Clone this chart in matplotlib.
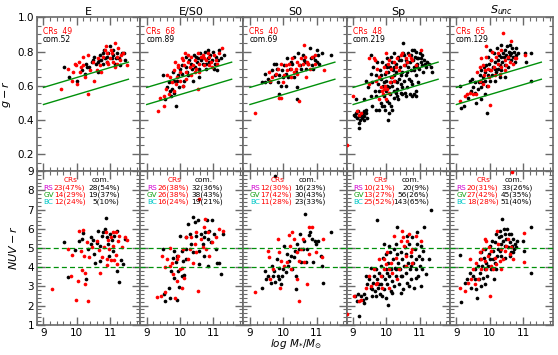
import numpy as np
import matplotlib
matplotlib.use("Agg")
import matplotlib.pyplot as plt
from matplotlib.ticker import MultipleLocator

# Panel names and sample counts
morph = ['E', 'E/S0', 'S0', 'Sp', '$S_{unc}$']
n_cr = [49, 68, 40, 48, 65]
n_com = [52, 89, 69, 219, 129]

# NUV-r class counts (CRs / comparison) and percentages
rs_cr = [23, 26, 12, 10, 20]; rs_cr_p = [47, 38, 30, 21, 31]
gv_cr = [14, 26, 17, 13, 27]; gv_cr_p = [29, 38, 42, 27, 42]
bc_cr = [12, 16, 11, 25, 18]; bc_cr_p = [24, 24, 28, 52, 28]
rs_com = [28, 32, 16, 20, 33]; rs_com_p = [54, 36, 23, 9, 26]
gv_com = [19, 38, 30, 56, 45]; gv_com_p = [37, 43, 43, 26, 35]
bc_com = [5, 19, 23, 143, 51]; bc_com_p = [10, 21, 33, 65, 40]

# ---- g-r vs mass, CRs (red) ----
gr_cr_E = [(9.53,0.58),(9.75,0.70),(9.85,0.63),(9.88,0.68),(9.95,0.73),(10.02,0.61),(10.10,0.68),(10.06,0.74),
           (10.18,0.77),(10.25,0.65),(10.35,0.78),(10.35,0.55),(10.40,0.69),(10.48,0.74),(10.53,0.63),(10.60,0.69),
           (10.70,0.72),(10.80,0.77),(10.84,0.81),(10.90,0.74),(11.00,0.76),(11.05,0.79),(11.15,0.85),(11.20,0.77),
           (11.25,0.82),(11.30,0.75),(11.40,0.79),(11.50,0.72),(10.95,0.73),(11.10,0.74),(10.92,0.79),(9.98,0.72),
           (10.20,0.72),(10.73,0.68),(11.15,0.71),(11.32,0.78),(11.03,0.81),(10.88,0.83),(10.65,0.76),(11.22,0.73),
           (10.14,0.71)]
gr_cr_ES0 = [(9.34,0.45),(9.51,0.48),(9.40,0.53),(9.57,0.58),(9.66,0.55),(9.76,0.62),(9.81,0.69),(9.85,0.74),
             (9.90,0.65),(9.95,0.71),(10.00,0.68),(10.05,0.76),(10.08,0.60),(10.12,0.72),(10.15,0.79),(10.19,0.68),
             (10.24,0.74),(10.29,0.71),(10.34,0.77),(10.39,0.72),(10.44,0.75),(10.49,0.70),(10.54,0.58),(10.58,0.73),
             (10.63,0.77),(10.68,0.78),(10.73,0.72),(10.78,0.75),(10.83,0.79),(10.87,0.77),(10.92,0.74),(10.97,0.71),
             (11.02,0.78),(11.07,0.75),(11.12,0.73),(11.18,0.79),(11.26,0.82),(9.71,0.65),(9.87,0.61),(10.00,0.63),
             (10.19,0.64),(10.34,0.66),(10.44,0.68),(10.58,0.68),(10.73,0.76),(10.10,0.75),(9.95,0.72),(9.81,0.57),
             (9.51,0.54),(9.61,0.66),(10.53,0.79),(10.87,0.72),(10.24,0.78)]
gr_cr_S0 = [(9.15,0.44),(9.57,0.68),(9.66,0.65),(9.83,0.70),(9.93,0.73),(9.98,0.62),(9.93,0.53),(10.02,0.66),
            (10.12,0.69),(10.17,0.73),(10.22,0.65),(10.27,0.76),(10.32,0.68),(10.37,0.70),(10.46,0.72),(10.48,0.51),
            (10.54,0.76),(10.58,0.73),(10.61,0.84),(10.69,0.65),(10.71,0.74),(10.80,0.70),(10.85,0.77),(10.95,0.78),
            (11.21,0.69),(9.86,0.53),(10.41,0.67),(10.64,0.77),(9.78,0.67),(10.07,0.72),(10.75,0.73),(10.22,0.70),
            (9.61,0.63),(10.41,0.74),(10.95,0.73)]
gr_cr_Sp = [(8.82,0.25),(9.00,0.54),(9.16,0.43),(9.23,0.44),(9.10,0.45),(9.48,0.76),(9.63,0.76),(9.66,0.75),
            (9.68,0.63),(9.73,0.70),(9.78,0.65),(9.83,0.59),(9.88,0.57),(9.90,0.55),(9.93,0.71),(9.96,0.60),
            (9.98,0.68),(10.00,0.52),(10.03,0.58),(10.06,0.73),(10.08,0.56),(10.10,0.62),(10.13,0.70),(10.18,0.65),
            (10.23,0.74),(10.28,0.71),(10.33,0.76),(10.38,0.69),(10.43,0.78),(10.48,0.79),(10.53,0.72),(10.58,0.76),
            (10.63,0.74),(10.68,0.78),(10.73,0.76),(10.78,0.75),(10.88,0.72),(11.03,0.81),(9.93,0.58),(9.78,0.52),
            (9.48,0.61),(10.08,0.75),(9.98,0.79),(10.23,0.63)]
gr_cr_Sunc = [(9.10,0.51),(9.25,0.54),(9.33,0.55),(9.40,0.56),(9.50,0.55),(9.60,0.55),(9.63,0.68),(9.70,0.71),
              (9.75,0.76),(9.80,0.72),(9.83,0.66),(9.85,0.69),(9.90,0.77),(9.90,0.83),(9.95,0.70),(9.97,0.65),
              (10.00,0.49),(10.03,0.75),(10.05,0.69),(10.08,0.80),(10.13,0.71),(10.15,0.66),(10.20,0.77),(10.25,0.73),
              (10.30,0.67),(10.35,0.81),(10.40,0.91),(10.45,0.75),(10.50,0.72),(10.55,0.77),(10.60,0.74),(10.65,0.86),
              (10.70,0.73),(10.75,0.76),(10.80,0.76),(11.05,0.78),(9.80,0.61),(9.95,0.60),(9.70,0.63),(10.35,0.71),
              (10.25,0.79),(10.47,0.69)]

# ---- g-r vs mass, comparison (black) ----
gr_com_E = [(9.63,0.71),(9.76,0.65),(10.00,0.63),(10.15,0.69),(10.28,0.73),(10.32,0.71),(10.45,0.74),(10.50,0.75),
            (10.57,0.73),(10.63,0.74),(10.68,0.75),(10.73,0.75),(10.78,0.79),(10.82,0.81),(10.86,0.76),(10.90,0.77),
            (10.95,0.79),(11.00,0.83),(11.05,0.76),(11.10,0.78),(11.15,0.73),(11.22,0.79),(11.27,0.76),(11.35,0.79),
            (11.42,0.79),(11.46,0.75),(10.80,0.73),(10.70,0.78),(10.63,0.68),(10.25,0.67),(10.38,0.71),(10.53,0.77),
            (11.08,0.81),(11.18,0.76),(10.92,0.74),(11.30,0.72)]
gr_com_ES0 = [(9.50,0.66),(9.56,0.52),(9.61,0.59),(9.69,0.57),(9.76,0.58),(9.73,0.54),(9.88,0.48),(9.83,0.56),
              (9.78,0.68),(9.90,0.63),(9.94,0.66),(10.00,0.70),(10.07,0.67),(10.13,0.63),(10.17,0.71),(10.22,0.68),
              (10.27,0.75),(10.32,0.73),(10.37,0.70),(10.42,0.78),(10.47,0.77),(10.50,0.74),(10.55,0.76),(10.60,0.79),
              (10.64,0.75),(10.70,0.77),(10.74,0.80),(10.78,0.73),(10.83,0.76),(10.85,0.81),(10.90,0.78),(10.95,0.75),
              (10.99,0.80),(11.04,0.73),(11.09,0.77),(11.14,0.75),(11.18,0.81),(11.24,0.76),(11.31,0.78),(11.02,0.70),
              (10.10,0.60),(9.98,0.59),(10.24,0.66),(10.44,0.71),(10.58,0.70),(10.68,0.73),(10.87,0.74),(10.05,0.72),
              (9.81,0.63),(9.66,0.62),(10.39,0.63),(10.19,0.77),(10.78,0.70),(11.12,0.69),(10.58,0.65)]
gr_com_S0 = [(9.36,0.62),(9.44,0.62),(9.44,0.67),(9.54,0.64),(9.59,0.62),(9.66,0.69),(9.71,0.73),(9.76,0.66),
             (9.78,0.73),(9.83,0.62),(9.88,0.55),(9.88,0.66),(9.93,0.60),(9.96,0.69),(10.02,0.72),(10.07,0.67),
             (10.12,0.76),(10.15,0.65),(10.20,0.70),(10.27,0.73),(10.32,0.77),(10.37,0.68),(10.40,0.59),(10.40,0.52),
             (10.43,0.79),(10.49,0.72),(10.54,0.70),(10.58,0.78),(10.64,0.74),(10.68,0.70),(10.74,0.73),(10.80,0.82),
             (10.83,0.76),(10.87,0.72),(10.90,0.77),(10.95,0.75),(11.00,0.81),(11.03,0.78),(11.07,0.73),(11.17,0.79),
             (11.42,0.78),(9.81,0.70),(9.98,0.65),(10.22,0.74),(10.61,0.75),(10.90,0.70),(11.00,0.74),(10.32,0.65),
             (10.07,0.60)]
gr_com_Sp = [(9.03,0.43),(9.08,0.44),(9.13,0.45),(9.18,0.42),(9.23,0.43),(9.28,0.44),(9.33,0.45),(9.38,0.44),
             (9.16,0.38),(9.16,0.35),(9.20,0.40),(9.26,0.41),(9.33,0.42),(9.40,0.46),(9.10,0.41),(9.06,0.42),
             (9.31,0.40),(9.43,0.41),(9.08,0.52),(9.33,0.52),(9.38,0.63),(9.46,0.59),(9.53,0.67),(9.53,0.54),
             (9.58,0.62),(9.60,0.71),(9.66,0.57),(9.68,0.66),(9.70,0.54),(9.73,0.74),(9.76,0.61),(9.78,0.57),
             (9.80,0.69),(9.83,0.50),(9.85,0.64),(9.88,0.74),(9.88,0.48),(9.90,0.60),(9.93,0.54),(9.95,0.67),
             (9.96,0.46),(9.98,0.72),(9.98,0.57),(10.00,0.63),(10.03,0.76),(10.03,0.51),(10.05,0.68),(10.06,0.40),
             (10.08,0.59),(10.10,0.71),(10.11,0.55),(10.13,0.65),(10.14,0.48),(10.16,0.74),(10.18,0.60),(10.20,0.69),
             (10.22,0.53),(10.23,0.79),(10.25,0.63),(10.28,0.56),(10.28,0.73),(10.30,0.68),(10.33,0.58),(10.34,0.77),
             (10.36,0.52),(10.38,0.64),(10.40,0.71),(10.43,0.61),(10.44,0.75),(10.46,0.55),(10.48,0.68),(10.50,0.79),
             (10.51,0.85),(10.53,0.63),(10.55,0.72),(10.56,0.56),(10.58,0.66),(10.60,0.75),(10.62,0.59),(10.64,0.71),
             (10.66,0.79),(10.68,0.64),(10.70,0.74),(10.72,0.55),(10.74,0.69),(10.76,0.81),(10.78,0.61),(10.80,0.75),
             (10.82,0.55),(10.84,0.71),(10.86,0.77),(10.88,0.66),(10.90,0.80),(10.92,0.73),(10.94,0.62),(10.96,0.76),
             (10.98,0.70),(11.00,0.79),(11.03,0.74),(11.06,0.72),(11.08,0.78),(11.10,0.68),(11.13,0.75),(11.16,0.73),
             (11.18,0.71),(11.23,0.74),(11.28,0.73),(11.33,0.71),(11.36,0.68),(10.90,0.57),(10.78,0.54),(10.88,0.54),
             (9.68,0.46),(9.58,0.48),(9.78,0.46),(10.08,0.44),(9.93,0.48),(10.18,0.46),(10.08,0.50),(10.33,0.54),
             (10.48,0.59),(10.58,0.54),(9.53,0.78),(10.03,0.71),(10.13,0.77),(10.23,0.71),(10.38,0.75),(10.53,0.78),
             (10.63,0.74),(10.73,0.78),(10.83,0.81),(10.93,0.76),(11.03,0.76),(10.43,0.66),(10.23,0.66),(10.33,0.62),
             (10.13,0.62),(9.93,0.62),(9.83,0.66),(10.03,0.60),(10.23,0.57),(10.43,0.56),(10.63,0.68),(10.73,0.63),
             (10.83,0.69),(10.93,0.71)]
gr_com_Sunc = [(9.10,0.60),(9.15,0.47),(9.23,0.48),(9.35,0.53),(9.40,0.63),(9.45,0.57),(9.50,0.59),(9.55,0.62),
               (9.57,0.56),(9.60,0.50),(9.65,0.58),(9.67,0.62),(9.70,0.66),(9.73,0.59),(9.75,0.69),(9.77,0.62),
               (9.80,0.65),(9.83,0.71),(9.85,0.63),(9.87,0.68),(9.90,0.72),(9.92,0.60),(9.93,0.44),(9.95,0.66),
               (9.97,0.73),(10.00,0.69),(10.02,0.63),(10.05,0.75),(10.07,0.66),(10.10,0.71),(10.12,0.79),(10.15,0.70),
               (10.17,0.74),(10.20,0.68),(10.23,0.82),(10.25,0.75),(10.27,0.78),(10.30,0.72),(10.33,0.77),(10.35,0.84),
               (10.38,0.74),(10.40,0.79),(10.43,0.77),(10.45,0.81),(10.47,0.72),(10.50,0.78),(10.53,0.83),(10.55,0.76),
               (10.58,0.80),(10.60,0.78),(10.63,0.75),(10.65,0.79),(10.68,0.82),(10.70,0.77),(10.73,0.80),(10.75,0.74),
               (10.80,0.78),(10.85,0.79),(11.05,0.79),(11.10,0.74),(11.25,0.79),(11.25,0.63),(10.15,0.63),(10.30,0.65),
               (10.35,0.69),(10.45,0.65),(10.55,0.71),(9.95,0.77),(9.85,0.55),(9.47,0.64),(9.75,0.52),(10.25,0.70),
               (10.60,0.84),(10.00,0.81),(10.80,0.82)]

# ---- NUV-r vs mass, CRs (red) ----
nuv_cr_E = [(9.25,2.89),(9.75,4.94),(9.85,4.64),(9.83,3.54),(9.98,2.31),(10.03,3.28),(10.07,5.90),(10.13,4.85),
            (10.16,3.84),(10.22,4.56),(10.25,3.15),(10.32,5.29),(10.35,2.23),(10.38,4.54),(10.45,5.05),(10.60,5.38),
            (10.67,4.89),(10.75,4.54),(10.83,5.06),(10.88,5.82),(10.90,4.10),(10.95,5.44),(10.98,4.94),(11.03,4.38),
            (11.08,5.85),(11.13,4.38),(11.17,5.82),(11.22,4.19),(11.25,5.38),(11.28,5.64),(11.35,5.03),(11.45,5.55),
            (11.50,5.41),(10.70,3.71),(10.92,4.45),(10.20,5.94),(11.10,5.12),(11.18,4.63),(10.25,3.71),(11.03,5.55)]
nuv_cr_ES0 = [(9.32,2.43),(9.44,2.49),(9.56,2.72),(9.47,4.56),(9.54,4.03),(9.61,4.42),(9.71,4.98),(9.76,4.24),
              (9.79,3.63),(9.85,2.40),(9.92,3.26),(9.95,4.56),(10.00,3.89),(10.05,2.93),(10.08,4.94),(10.12,3.45),
              (10.19,5.55),(10.24,4.42),(10.29,4.94),(10.34,5.55),(10.39,4.24),(10.44,5.20),(10.49,4.77),(10.54,2.75),
              (10.58,7.57),(10.63,5.47),(10.68,5.03),(10.75,6.52),(10.78,4.94),(10.83,5.82),(10.87,4.59),(10.97,5.29),
              (11.07,5.55),(11.17,5.99),(11.29,5.90),(10.49,5.82),(9.90,4.42),(10.73,6.08),(10.05,3.98),(9.71,4.07)]
nuv_cr_S0 = [(9.15,2.72),(9.54,4.86),(9.57,4.51),(9.59,3.37),(9.68,3.89),(9.83,5.47),(9.86,4.77),(9.91,2.93),
             (9.93,4.33),(10.12,4.25),(10.20,5.12),(10.22,3.89),(10.27,5.82),(10.32,5.47),(10.17,5.65),(10.41,3.37),
             (10.46,4.33),(10.48,2.23),(10.54,4.95),(10.58,5.47),(10.61,4.25),(10.71,3.11),(10.76,6.09),(10.78,4.68),
             (10.85,6.09),(10.97,4.77),(11.20,5.47),(11.17,4.51),(10.02,4.07),(10.41,4.77)]
nuv_cr_Sp = [(8.81,1.58),(9.03,2.49),(9.18,2.23),(9.23,2.31),(9.38,2.93),(9.53,3.01),(9.63,3.89),(9.73,3.19),
             (9.78,4.42),(9.83,3.54),(9.88,2.93),(9.93,3.89),(9.98,4.15),(10.03,4.77),(10.08,2.93),(10.13,4.24),
             (10.18,3.71),(10.23,5.64),(10.28,4.50),(10.33,3.36),(10.38,3.89),(10.46,5.90),(10.50,5.55),(10.53,5.12),
             (10.58,4.59),(10.60,4.06),(10.63,5.38),(10.68,5.73),(10.73,4.77),(10.78,4.24),(10.88,5.64),(11.03,5.38),
             (10.78,4.94),(10.43,5.38),(10.08,3.89),(9.68,3.10),(9.93,4.42),(9.48,3.54)]
nuv_cr_Sunc = [(10.68,8.93),(9.10,2.93),(9.25,2.75),(9.35,3.19),(9.45,3.36),(9.50,3.89),(9.55,3.10),(9.60,4.24),
               (9.65,3.36),(9.70,4.77),(9.75,3.89),(9.80,4.94),(9.85,5.47),(9.87,4.33),(9.90,3.89),(9.95,4.59),
               (9.97,5.03),(10.00,2.49),(10.03,4.06),(10.05,4.85),(10.10,3.89),(10.15,4.50),(10.20,4.15),(10.23,5.90),
               (10.25,5.20),(10.30,4.33),(10.35,3.89),(10.40,4.42),(10.45,4.85),(10.50,5.12),(10.55,5.47),(10.60,4.68),
               (10.65,5.03),(10.70,4.42),(11.03,5.78),(11.03,4.29),(9.40,4.42),(9.75,4.42),(9.90,5.38),(10.35,4.94)]

# ---- NUV-r vs mass, comparison (black) ----
nuv_com_E = [(9.63,5.29),(9.75,3.50),(9.96,4.89),(10.08,5.38),(10.20,5.78),(10.28,3.36),(10.33,4.94),(10.42,5.55),
             (10.48,5.41),(10.52,4.68),(10.55,4.24),(10.60,5.26),(10.63,5.90),(10.70,5.12),(10.75,5.64),(10.80,5.82),
             (10.88,6.55),(10.85,5.99),(10.90,5.55),(10.95,5.20),(10.98,4.59),(11.00,5.73),(11.05,5.43),(11.08,4.85),
             (11.12,5.64),(11.20,5.90),(11.22,3.80),(11.27,3.22),(11.32,4.38),(11.40,4.19),(11.45,5.47),(10.70,4.33),
             (10.16,5.47),(10.42,5.20)]
nuv_com_ES0 = [(9.49,4.94),(9.53,2.58),(9.56,2.23),(9.66,2.93),(9.71,2.40),(9.74,3.80),(9.78,4.50),(9.81,4.85),
               (9.83,3.45),(9.87,4.27),(9.90,2.31),(9.92,4.59),(9.95,3.80),(9.98,2.98),(10.01,5.64),(10.05,3.54),
               (10.08,4.33),(10.13,3.57),(10.17,4.94),(10.19,5.55),(10.24,6.25),(10.29,5.73),(10.34,5.20),(10.39,6.60),
               (10.44,6.34),(10.49,5.64),(10.53,6.43),(10.58,4.85),(10.63,5.73),(10.68,5.20),(10.73,4.59),(10.76,5.82),
               (10.80,6.43),(10.84,5.47),(10.87,5.90),(10.92,5.29),(10.97,6.43),(11.02,5.73),(11.07,4.94),(11.12,4.24),
               (11.17,4.24),(11.22,3.63),(11.28,5.73),(10.83,4.07),(10.58,4.15),(10.19,4.42),(10.05,4.85),(10.39,4.77),
               (10.73,5.55)]
nuv_com_S0 = [(9.36,2.93),(9.44,3.81),(9.47,3.37),(9.54,3.54),(9.63,3.19),(9.66,4.07),(9.70,3.54),(9.76,3.23),
              (9.76,8.72),(9.80,4.42),(9.83,3.54),(9.86,3.98),(9.88,3.37),(9.93,3.11),(9.96,3.54),(10.02,5.12),
              (10.07,3.76),(10.12,4.68),(10.15,4.07),(10.17,4.33),(10.22,4.60),(10.27,3.89),(10.32,4.51),(10.35,4.86),
              (10.37,2.84),(10.39,3.54),(10.42,5.21),(10.46,4.95),(10.50,5.74),(10.54,4.25),(10.58,4.95),(10.61,5.38),
              (10.66,6.79),(10.68,4.25),(10.71,4.95),(10.76,5.65),(10.80,5.82),(10.85,5.47),(10.90,4.25),(10.95,5.38),
              (10.97,5.21),(11.05,5.38),(11.12,4.60),(11.15,4.07),(11.20,3.19),(11.42,5.82),(9.73,3.81),(9.98,3.89)]
nuv_com_Sp = [(9.16,1.47),(9.10,2.23),(9.06,2.49),(9.13,2.58),(9.23,2.49),(9.28,2.31),(9.33,2.58),(9.38,2.40),
              (9.31,2.14),(9.43,3.10),(9.48,3.36),(9.53,2.93),(9.56,2.49),(9.60,3.19),(9.63,3.54),(9.66,2.75),
              (9.68,3.89),(9.70,2.49),(9.73,3.36),(9.75,2.93),(9.73,6.43),(9.78,3.71),(9.80,2.58),(9.83,4.06),
              (9.85,3.10),(9.88,3.54),(9.90,4.50),(9.93,2.84),(9.95,3.36),(9.98,3.89),(10.00,2.40),(10.03,3.10),
              (10.05,4.24),(10.06,2.05),(10.08,3.54),(10.10,4.77),(10.13,2.75),(10.15,3.89),(10.18,3.28),(10.20,4.42),
              (10.23,3.01),(10.25,3.98),(10.28,5.20),(10.30,3.54),(10.33,6.08),(10.35,4.24),(10.38,3.10),(10.40,3.89),
              (10.43,4.77),(10.45,3.54),(10.48,4.42),(10.50,2.84),(10.53,4.06),(10.55,5.03),(10.58,3.71),(10.60,4.68),
              (10.63,3.19),(10.65,4.24),(10.68,5.20),(10.70,3.89),(10.73,4.59),(10.75,3.36),(10.78,5.55),(10.80,4.24),
              (10.83,2.93),(10.85,4.94),(10.88,3.89),(10.90,4.42),(10.93,5.20),(10.95,3.54),(10.98,4.59),(11.00,4.06),
              (11.03,3.01),(11.08,4.42),(11.10,4.85),(11.13,6.08),(11.18,3.63),(11.28,4.42),(11.35,6.99),(9.93,5.20),
              (10.23,4.94),(9.53,3.98),(9.38,3.54),(10.08,5.12),(9.88,2.49),(10.48,3.54),(10.73,4.06),(10.33,4.68),
              (10.63,5.64),(10.93,5.82),(9.98,4.68),(10.18,2.66),(9.78,3.10),(9.58,2.84),(10.28,3.89),(10.68,3.01),
              (10.43,2.66),(10.03,3.71),(10.88,3.45),(11.08,3.89),(11.03,5.12)]
nuv_com_Sunc = [(9.10,4.63),(9.13,2.17),(9.25,3.19),(9.33,3.36),(9.40,3.71),(9.45,2.93),(9.50,3.54),(9.55,3.89),
                (9.60,2.84),(9.63,2.40),(9.65,4.06),(9.67,3.36),(9.70,4.42),(9.72,3.71),(9.75,4.77),(9.77,4.06),
                (9.80,3.45),(9.83,4.50),(9.85,3.89),(9.87,4.94),(9.90,4.24),(9.92,3.54),(9.95,4.06),(9.97,4.68),
                (10.00,5.12),(10.02,4.42),(10.05,3.89),(10.07,5.38),(10.10,4.85),(10.12,3.36),(10.15,4.24),(10.17,5.29),
                (10.20,5.73),(10.23,4.59),(10.25,4.94),(10.27,5.55),(10.30,5.90),(10.33,5.20),(10.35,5.64),(10.38,6.52),
                (10.40,5.38),(10.42,5.99),(10.45,4.50),(10.47,5.73),(10.50,5.47),(10.53,5.99),(10.55,5.03),(10.57,5.73),
                (10.60,5.29),(10.63,4.77),(10.65,5.73),(10.68,5.12),(10.70,5.47),(10.73,4.94),(10.75,5.20),(10.80,5.03),
                (10.83,5.38),(11.00,5.38),(11.03,4.85),(11.25,6.08),(11.25,3.68),(9.75,3.01),(9.55,3.36),(9.85,3.10),
                (10.35,4.59),(10.20,3.89),(10.45,5.12),(10.60,4.59),(10.70,4.77),(10.30,4.85),(10.10,4.42)]

gr_cr = [gr_cr_E, gr_cr_ES0, gr_cr_S0, gr_cr_Sp, gr_cr_Sunc]
gr_com = [gr_com_E, gr_com_ES0, gr_com_S0, gr_com_Sp, gr_com_Sunc]
nuv_cr = [nuv_cr_E, nuv_cr_ES0, nuv_cr_S0, nuv_cr_Sp, nuv_cr_Sunc]
nuv_com = [nuv_com_E, nuv_com_ES0, nuv_com_S0, nuv_com_Sp, nuv_com_Sunc]

# green-valley boundaries
mass_line = np.array([9.0, 11.55])
gr_upper = 0.59 + 0.058 * (mass_line - 9.0)
gr_lower = 0.49 + 0.058 * (mass_line - 9.0)
nuv_cuts = [4, 5]

frame = '#6a6a6a'
fig, axes = plt.subplots(2, 5, figsize=(5.58, 3.55), dpi=100, sharex=True)
fig.subplots_adjust(left=0.066, right=0.991, top=0.951, bottom=0.085, wspace=0, hspace=0)

def style(ax):
    for sp in ax.spines.values():
        sp.set_color(frame)
        sp.set_linewidth(1.2)
    ax.tick_params(which='both', direction='in', top=True, right=True, color=frame, labelsize=7.5, pad=2)
    ax.tick_params(which='major', length=6, width=1.0)
    ax.tick_params(which='minor', length=3, width=0.8)
    ax.set_xlim(8.8, 11.9)
    ax.xaxis.set_major_locator(MultipleLocator(1))
    ax.xaxis.set_minor_locator(MultipleLocator(0.2))

fs = 5.3
for i in range(5):
    ax = axes[0, i]
    style(ax)
    com = np.array(gr_com[i]); cr = np.array(gr_cr[i])
    ax.scatter(com[:, 0], com[:, 1], s=7, c='black', lw=0, zorder=3)
    ax.scatter(cr[:, 0], cr[:, 1], s=7, c='red', lw=0, zorder=3)
    ax.plot(mass_line, gr_upper, color='#00900a', lw=1, zorder=4)
    ax.plot(mass_line, gr_lower, color='#00900a', lw=1, zorder=4)
    ax.set_ylim(0.1, 1.0)
    ax.yaxis.set_major_locator(MultipleLocator(0.2))
    ax.yaxis.set_minor_locator(MultipleLocator(0.05))
    ax.set_title(morph[i], fontsize=8, pad=2)
    ax.text(0.06, 0.905, f'CRs  {n_cr[i]}', color='red', fontsize=5.5, transform=ax.transAxes, va='center')
    ax.text(0.06, 0.855, f'com.{n_com[i]}', color='black', fontsize=5.5, transform=ax.transAxes, va='center')
    ax.tick_params(labelbottom=False)
    if i > 0:
        ax.tick_params(labelleft=False)
    else:
        ax.set_yticks([0.2, 0.4, 0.6, 0.8, 1.0])
        ax.set_yticklabels(['0.2', '0.4', '0.6', '0.8', '1.0'])

    ax = axes[1, i]
    style(ax)
    com = np.array(nuv_com[i]); cr = np.array(nuv_cr[i])
    ax.scatter(com[:, 0], com[:, 1], s=7, c='black', lw=0, zorder=3)
    ax.scatter(cr[:, 0], cr[:, 1], s=7, c='red', lw=0, zorder=3)
    for c in nuv_cuts:
        ax.axhline(c, color='#00900a', ls=(0, (4, 2.5)), lw=0.9, zorder=4)
    ax.set_ylim(1, 9)
    ax.yaxis.set_major_locator(MultipleLocator(1))
    ax.yaxis.set_minor_locator(MultipleLocator(0.2))
    if i > 0:
        ax.tick_params(labelleft=False)
    ax.set_xticks([9, 10, 11])
    ax.set_xticklabels(['9', '10', '11'])

    # class table
    ax.text(0.33, 0.942, 'CRs', color='red', fontsize=fs, transform=ax.transAxes, ha='center', va='center')
    ax.text(0.62, 0.942, 'com.', color='black', fontsize=fs, transform=ax.transAxes, ha='center', va='center')
    rows = [('RS', '#d000d0', rs_cr[i], rs_cr_p[i], rs_com[i], rs_com_p[i]),
            ('GV', '#10a010', gv_cr[i], gv_cr_p[i], gv_com[i], gv_com_p[i]),
            ('BC', '#00c8c8', bc_cr[i], bc_cr_p[i], bc_com[i], bc_com_p[i])]
    for k, (lab, col, a, ap, b, bp) in enumerate(rows):
        yy = 0.893 - k * 0.047
        ax.text(0.065, yy, lab, color=col, fontsize=fs, transform=ax.transAxes, va='center')
        ax.text(0.165, yy, f'{a}({ap}%)', color='red', fontsize=fs, transform=ax.transAxes, va='center')
        ax.text(0.80, yy, f'{b}({bp}%)', color='black', fontsize=fs, transform=ax.transAxes, va='center', ha='right')

axes[0, 0].set_ylabel('$g-r$', fontsize=8, labelpad=3)
axes[1, 0].set_ylabel('$NUV-r$', fontsize=8, labelpad=6)
fig.text(0.53, 0.012, r'$log\ M_{*}/M_{\odot}$', fontsize=7.5, ha='center', va='bottom')

plt.savefig('out.png', dpi=100)
